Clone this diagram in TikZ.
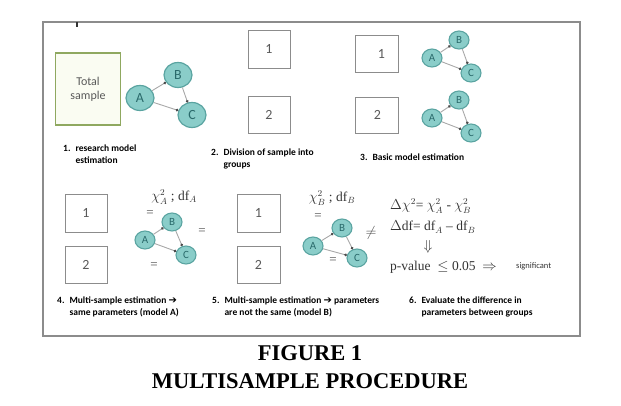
\documentclass[tikz,border=0pt]{standalone}
\usepackage{fontspec}
\setmainfont{Liberation Serif}
\newfontfamily\calfont{Carlito}
\newfontfamily\dejavufont{DejaVu Sans}
\usetikzlibrary{shapes.geometric,arrows.meta}
\definecolor{nodefill}{HTML}{8ACDC9}
\definecolor{nodeline}{HTML}{5AA4A1}
\definecolor{nodetext}{HTML}{2A6A6B}
\definecolor{boxline}{HTML}{8C8C8C}
\definecolor{greenline}{HTML}{8FA860}
\definecolor{greenfill}{HTML}{FAFCF2}
\definecolor{edgecol}{HTML}{A8A8A8}
\newcommand{\steptext}[3]{\begin{tabular}{@{}l@{\hspace{5pt}}l@{}}#1&#2\\&#3\end{tabular}}
\newcommand{\heavyarrow}{{\dejavufont\mdseries\fontsize{10}{10}\selectfont ➔}}
\tikzset{
  bignode/.style={ellipse,draw=nodeline,fill=nodefill,line width=1.2pt,minimum width=28pt,minimum height=25pt,inner sep=0pt,text=nodetext,font=\calfont\fontsize{14}{15}\selectfont},
  smallnode/.style={ellipse,draw=nodeline,fill=nodefill,line width=1.1pt,minimum width=20pt,minimum height=18pt,inner sep=0pt,text=nodetext,font=\calfont\fontsize{11}{12}\selectfont},
  edge/.style={draw=edgecol,line width=0.9pt,-{Circle[length=2.6pt,fill=black!70,color=black!70]}},
  grpbox/.style={draw=boxline,line width=0.9pt,fill=white,text=black!65,font=\calfont\fontsize{14}{15}\selectfont},
  caption/.style={anchor=north west,inner sep=0pt,align=left,font=\calfont\bfseries\fontsize{9.5}{12}\selectfont},
  eqsign/.style={font=\fontsize{13}{14}\selectfont,text=black!70,inner sep=0pt},
  mtext/.style={anchor=west,inner sep=0pt,font=\fontsize{13.5}{15}\selectfont,text=black!80}
}
\begin{document}
\begin{tikzpicture}[x=1pt,y=-1pt]
\useasboundingbox (0,0) rectangle (621,406);
% frame
\draw[boxline,line width=1.3pt] (43,22) rectangle (580,336);
\draw[black!80,line width=1.2pt] (77,22) -- (77,27);
% step 1
\node[draw=greenline,fill=greenfill,line width=1.3pt,minimum width=65pt,minimum height=72pt,inner sep=0pt,align=center,text=black!65,font=\calfont\fontsize{12}{14}\selectfont] (total) at (88,89) {Total\\sample};
\node[bignode] (a1) at (140,98) {A};
\node[bignode] (b1) at (178,75) {B};
\node[bignode] (c1) at (192,115) {C};
\draw[edge] (a1) -- (b1);
\draw[edge] (a1) -- (c1);
\draw[edge] (b1) -- (c1);
\node[caption] (cap1) at (63,143) {\steptext{1.}{research model}{estimation}};
% step 2
\node[grpbox,minimum width=42pt,minimum height=38pt] (g21) at (269,49) {1};
\node[grpbox,minimum width=42pt,minimum height=37pt] (g22) at (269,114.5) {2};
\node[caption] (cap2) at (211,147) {\steptext{2.}{Division of sample into}{groups}};
% step 3
\node[grpbox,minimum width=43pt,minimum height=37pt] (g31) at (376.5,53.5) {\hspace{10pt}1};
\node[grpbox,minimum width=43pt,minimum height=36pt] (g32) at (376.5,115) {\hspace{2pt}2};
\node[smallnode] (a3) at (432,58) {A};
\node[smallnode] (b3) at (459,40) {B};
\node[smallnode] (c3) at (471,73) {C};
\draw[edge] (a3) -- (b3);
\draw[edge] (a3) -- (c3);
\draw[edge] (b3) -- (c3);
\node[smallnode] (a3b) at (432,118) {A};
\node[smallnode] (b3b) at (459,100) {B};
\node[smallnode] (c3b) at (471,133) {C};
\draw[edge] (a3b) -- (b3b);
\draw[edge] (a3b) -- (c3b);
\draw[edge] (b3b) -- (c3b);
\node[caption] (cap3) at (360,154) {3.\hspace{5pt}Basic model estimation};
% step 4
\node[grpbox,minimum width=42pt,minimum height=38pt] (g41) at (86,213) {1};
\node[grpbox,minimum width=42pt,minimum height=37pt] (g42) at (86,264.5) {2};
\node[smallnode] (a4) at (145,240) {A};
\node[smallnode] (b4) at (172,222) {B};
\node[smallnode] (c4) at (186,255) {C};
\draw[edge] (a4) -- (b4);
\draw[edge] (a4) -- (c4);
\draw[edge] (b4) -- (c4);
\node[mtext,anchor=center] (chiA) at (174,197) {$\chi^2_A$ ; $\mathrm{df}_A$};
\node[eqsign] (e41) at (150,214) {=};
\node[eqsign] (e42) at (202,232) {=};
\node[eqsign] (e43) at (154,266) {=};
\node[caption] (cap4) at (57,295) {\steptext{4.}{Multi-sample estimation \heavyarrow}{same parameters (model A)}};
% step 5
\node[grpbox,minimum width=43pt,minimum height=38pt] (g51) at (258.5,213) {1};
\node[grpbox,minimum width=43pt,minimum height=37pt] (g52) at (258.5,264.5) {2};
\node[smallnode] (a5) at (313,246) {A};
\node[smallnode] (b5) at (342,228) {B};
\node[smallnode] (c5) at (357,258) {C};
\draw[edge] (a5) -- (b5);
\draw[edge] (a5) -- (c5);
\draw[edge] (b5) -- (c5);
\node[mtext,anchor=center] (chiB) at (332,198) {$\chi^2_B$ ; $\mathrm{df}_B$};
\node[eqsign] (e51) at (318,217) {=};
\node[eqsign] (e52) at (333,261) {=};
\node[eqsign,font=\fontsize{14}{15}\selectfont] (ne5) at (371,233) {$\neq$};
\node[caption] (cap5) at (212,295) {\steptext{5.}{Multi-sample estimation \heavyarrow{} parameters}{are not the same (model B)}};
% step 6
\node[mtext] (d1) at (390,206) {$\Delta\chi^2$= $\chi^2_A$ - $\chi^2_B$};
\node[mtext] (d2) at (390,227) {$\Delta$df= df$_A$ -- df$_B$};
\node[mtext,anchor=center] (d3) at (428,247) {$\Downarrow$};
\node[mtext] (d4) at (390,267) {p-value \ $\leq$ 0.05 \ $\Rightarrow$};
\node[anchor=west,inner sep=0pt,font=\calfont\fontsize{8.5}{9}\selectfont,text=black!80] (sig) at (516,266) {significant};
\node[caption] (cap6) at (409,295) {\steptext{6.}{Evaluate the difference in}{parameters between groups}};
% title
\node[font=\bfseries\fontsize{22.5}{26}\selectfont,inner sep=0pt] (fig) at (310,353) {FIGURE 1};
\node[font=\bfseries\fontsize{22.5}{26}\selectfont,inner sep=0pt] (mp) at (310,381) {MULTISAMPLE PROCEDURE};
\end{tikzpicture}
\end{document}
